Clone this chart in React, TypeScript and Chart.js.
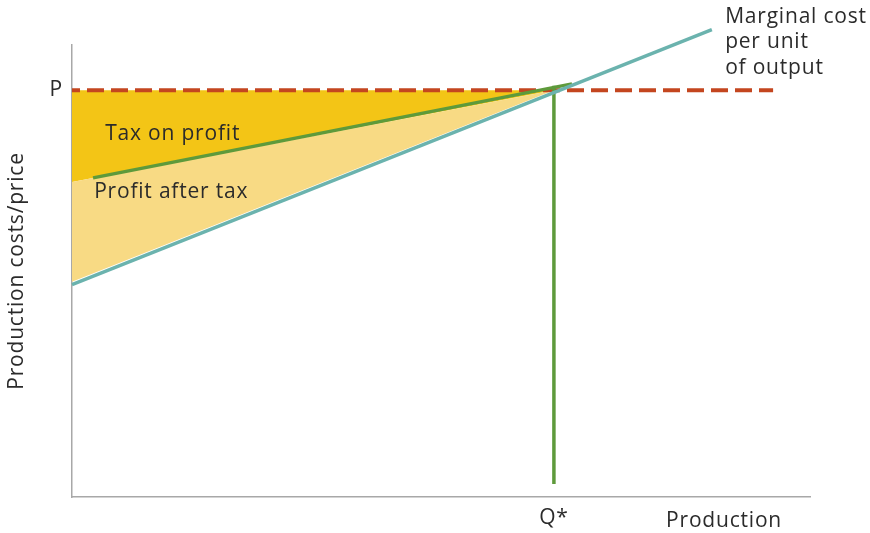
import React, { useEffect, useRef } from "react";
import { Chart, registerables } from "chart.js";

Chart.register(...registerables);

// ---- data ----
const priceP = 90;
const quantityQ = 65.3;
const xRange = [0, 100];
const yRange = [0, 100];

const taxTopEdge = [
  { x: 0, y: 90 },
  { x: 65.3, y: 90 },
];
const taxBottomEdge = [
  { x: 0, y: 69.7 },
  { x: 65.3, y: 90 },
];
const profitBottomEdge = [
  { x: 0, y: 47.6 },
  { x: 65.3, y: 90 },
];
const priceLine = [
  { x: 0, y: 90 },
  { x: 95, y: 90 },
];
const quantityLine = [
  { x: 65.3, y: 2.9 },
  { x: 65.3, y: 91.0 },
];
const afterTaxLine = [
  { x: 2.85, y: 70.6 },
  { x: 67.75, y: 91.4 },
];
const marginalCostLine = [
  { x: 0, y: 47.0 },
  { x: 86.7, y: 103.4 },
];

const yTickLabels = ["P"];
const xTickLabels = ["Q*"];
const yAxisTitle = "Production costs/price";
const xAxisTitle = "Production";
const noteTexts = [["Tax on profit"], ["Profit after tax"], ["Marginal cost", "per unit", "of output"]];

// ---- layout / style ----
const notePositions = [
  { x: 4.5, y: 79.0 },
  { x: 3.0, y: 66.2 },
  { x: 88.5, y: 104.9 },
];
const xTitlePos = { x: 80.5, dy: 30 };
const FONT = "'Open Sans', sans-serif";
const FONT_SIZE = 21;
const LINE_GAP = 25.5;
const LETTER_SPACING = "0.8px";
const TEXT = "#2b2b2b";
const AXIS = "#a8a8a8";
const DARK_YELLOW = "#f3c516";
const LIGHT_YELLOW = "#f8da84";
const TEAL = "#6bb3ae";
const GREEN = "#5e9a3b";
const RED = "#c4461f";

const notesPlugin = {
  id: "notes",
  beforeDraw(chart: any) {
    chart.ctx.letterSpacing = LETTER_SPACING;
  },
  afterDatasetsDraw(chart: any) {
    const { ctx, scales } = chart;
    const xs = scales.x;
    const ys = scales.y;
    ctx.save();
    ctx.letterSpacing = LETTER_SPACING;
    ctx.font = `${FONT_SIZE}px ${FONT}`;
    ctx.fillStyle = TEXT;
    ctx.textAlign = "left";
    ctx.textBaseline = "alphabetic";
    noteTexts.forEach((lines, i) => {
      const px = xs.getPixelForValue(notePositions[i].x);
      const py = ys.getPixelForValue(notePositions[i].y);
      lines.forEach((t, j) => ctx.fillText(t, px, py + j * LINE_GAP));
    });
    ctx.fillText(xAxisTitle, xs.getPixelForValue(xTitlePos.x), ys.getPixelForValue(0) + xTitlePos.dy);
    ctx.restore();
  },
};

export default function App() {
  const ref = useRef<HTMLCanvasElement | null>(null);
  useEffect(() => {
    if (!ref.current) return;
    const hidden = { borderWidth: 0, pointRadius: 0 };
    const chart = new Chart(ref.current, {
      type: "line",
      data: {
        datasets: [
          { data: taxTopEdge, fill: "+1", backgroundColor: DARK_YELLOW, order: 10, ...hidden },
          { data: taxBottomEdge, fill: "+1", backgroundColor: LIGHT_YELLOW, order: 9, ...hidden },
          { data: profitBottomEdge, fill: false, order: 8, ...hidden },
          {
            data: priceLine,
            borderColor: RED,
            borderWidth: 4,
            borderDash: [17, 7],
            borderDashOffset: 9,
            pointRadius: 0,
            fill: false,
            order: 4,
          },
          { data: quantityLine, borderColor: GREEN, borderWidth: 3.5, pointRadius: 0, fill: false, order: 3 },
          { data: afterTaxLine, borderColor: GREEN, borderWidth: 3.5, pointRadius: 0, fill: false, order: 2 },
          {
            data: marginalCostLine,
            borderColor: TEAL,
            borderWidth: 3.5,
            pointRadius: 0,
            fill: false,
            order: 1,
            clip: false,
          },
        ] as any,
      },
      options: {
        animation: false,
        responsive: true,
        maintainAspectRatio: false,
        parsing: false as any,
        layout: { padding: { top: 45, right: 60, left: 0, bottom: 0 } },
        plugins: { legend: { display: false }, tooltip: { enabled: false } },
        elements: { line: { tension: 0, borderCapStyle: "butt" } },
        scales: {
          x: {
            type: "linear",
            min: xRange[0],
            max: xRange[1],
            grid: { display: false, drawTicks: false },
            border: { display: true, color: AXIS, width: 1.5 },
            afterBuildTicks: (axis: any) => {
              axis.ticks = [{ value: quantityQ }];
            },
            afterFit: (axis: any) => {
              axis.height = 36;
            },
            ticks: {
              padding: 8,
              color: TEXT,
              font: { family: FONT, size: FONT_SIZE },
              maxRotation: 0,
              autoSkip: false,
              callback: () => xTickLabels[0],
            },
          },
          y: {
            type: "linear",
            min: yRange[0],
            max: yRange[1],
            grid: { display: false, drawTicks: false },
            border: { display: true, color: AXIS, width: 1.5 },
            afterBuildTicks: (axis: any) => {
              axis.ticks = [{ value: priceP }];
            },
            afterFit: (axis: any) => {
              axis.width = 72;
            },
            ticks: {
              padding: 9,
              color: TEXT,
              font: { family: FONT, size: FONT_SIZE },
              autoSkip: false,
              callback: () => yTickLabels[0],
            },
            title: {
              display: true,
              text: yAxisTitle,
              color: TEXT,
              font: { family: FONT, size: FONT_SIZE },
              padding: { top: 4, bottom: 0 },
            },
          },
        },
      } as any,
      plugins: [notesPlugin],
    });
    return () => chart.destroy();
  }, []);
  return (
    <div style={{ position: "fixed", left: 0, top: 0, width: 870, height: 533, background: "#fff" }}>
      <canvas ref={ref} />
    </div>
  );
}
